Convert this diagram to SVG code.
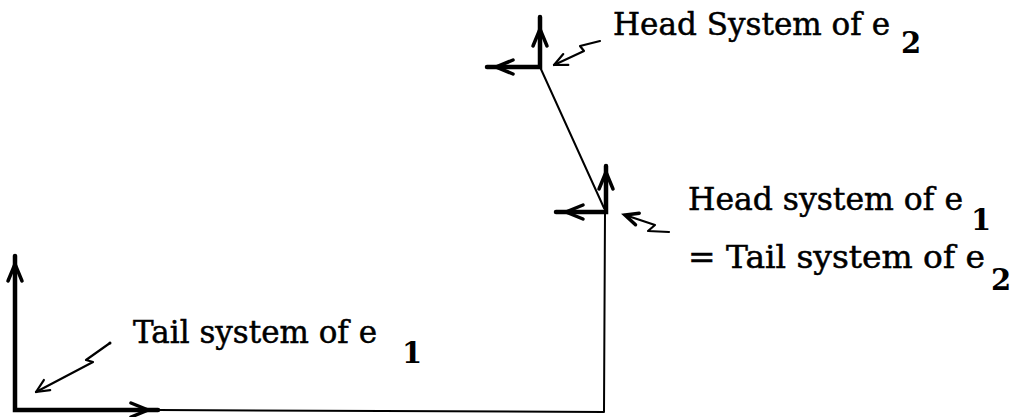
<svg xmlns="http://www.w3.org/2000/svg" width="1015" height="417" viewBox="0 0 1015 417">
<style>
.thin{fill:none;stroke:#000;stroke-width:2;stroke-linecap:round;stroke-linejoin:round}
.thick{fill:none;stroke:#000;stroke-width:4.5;stroke-linecap:round}
.chev{fill:none;stroke:#000;stroke-width:3.5;stroke-linecap:round;stroke-linejoin:miter}
.ptr{fill:none;stroke:#000;stroke-width:2.2;stroke-linecap:round;stroke-linejoin:round}
.t{font-family:"DejaVu Serif","Liberation Serif",serif;font-size:31px;fill:#000;stroke:#000;stroke-width:0.5}
.sub{font-family:"DejaVu Serif","Liberation Serif",serif;font-size:29px;font-weight:bold;fill:#000}
</style>
<defs>
<path id="chev" d="M-17,-7 L0,0 L-17,7"/>
<path id="ptrhead" d="M-13,-6 L0,0 L-13,6"/>
</defs>
<g id="connectors">
<polyline class="thin" points="158,410 604,412 605,212"/>
<line class="thin" x1="540" y1="67" x2="604" y2="208"/>
</g>
<g id="tail-system">
<polyline class="thick" points="15,256 15,410 158,410"/>
<use href="#chev" class="chev" transform="translate(15,264) rotate(-90)"/>
<use href="#chev" class="chev" transform="translate(148,410)"/>
</g>
<g id="head-system-e1">
<polyline class="thick" points="606,166 606,212 556,212"/>
<use href="#chev" class="chev" transform="translate(606,172) rotate(-90)"/>
<use href="#chev" class="chev" transform="translate(566,212) rotate(180)"/>
</g>
<g id="head-system-e2">
<polyline class="thick" points="540,17 540,67 487,67"/>
<use href="#chev" class="chev" transform="translate(540,29) rotate(-90)"/>
<use href="#chev" class="chev" transform="translate(496,67) rotate(180)"/>
</g>
<g id="pointers">
<polyline class="ptr" points="110,343 86,360 93,362 36,392"/>
<use href="#ptrhead" class="ptr" transform="translate(36,392) rotate(148)"/>
<circle cx="110" cy="343" r="1.5"/>
<polyline class="ptr" points="600,41 580,46 584,51 554,65"/>
<use href="#ptrhead" class="ptr" transform="translate(554,65) rotate(155)"/>
<polyline class="ptr" points="669,232 648,231 655,225 625,215"/>
<use href="#ptrhead" class="chev" transform="translate(625,215) rotate(198)"/>
</g>
<g id="label-head-e2">
<text class="t" x="613" y="35" textLength="277" lengthAdjust="spacingAndGlyphs">Head System of e</text>
<text class="sub" x="901" y="53">2</text>
</g>
<g id="label-head-e1">
<text class="t" x="688" y="210" textLength="275" lengthAdjust="spacingAndGlyphs">Head system of e</text>
<text class="sub" x="971" y="230">1</text>
<text class="t" x="688" y="268" textLength="297" lengthAdjust="spacingAndGlyphs">= Tail system of e</text>
<text class="sub" x="991" y="290">2</text>
</g>
<g id="label-tail-e1">
<text class="t" x="133" y="343" textLength="244" lengthAdjust="spacingAndGlyphs">Tail system of e</text>
<text class="sub" x="402" y="363">1</text>
</g>
</svg>
